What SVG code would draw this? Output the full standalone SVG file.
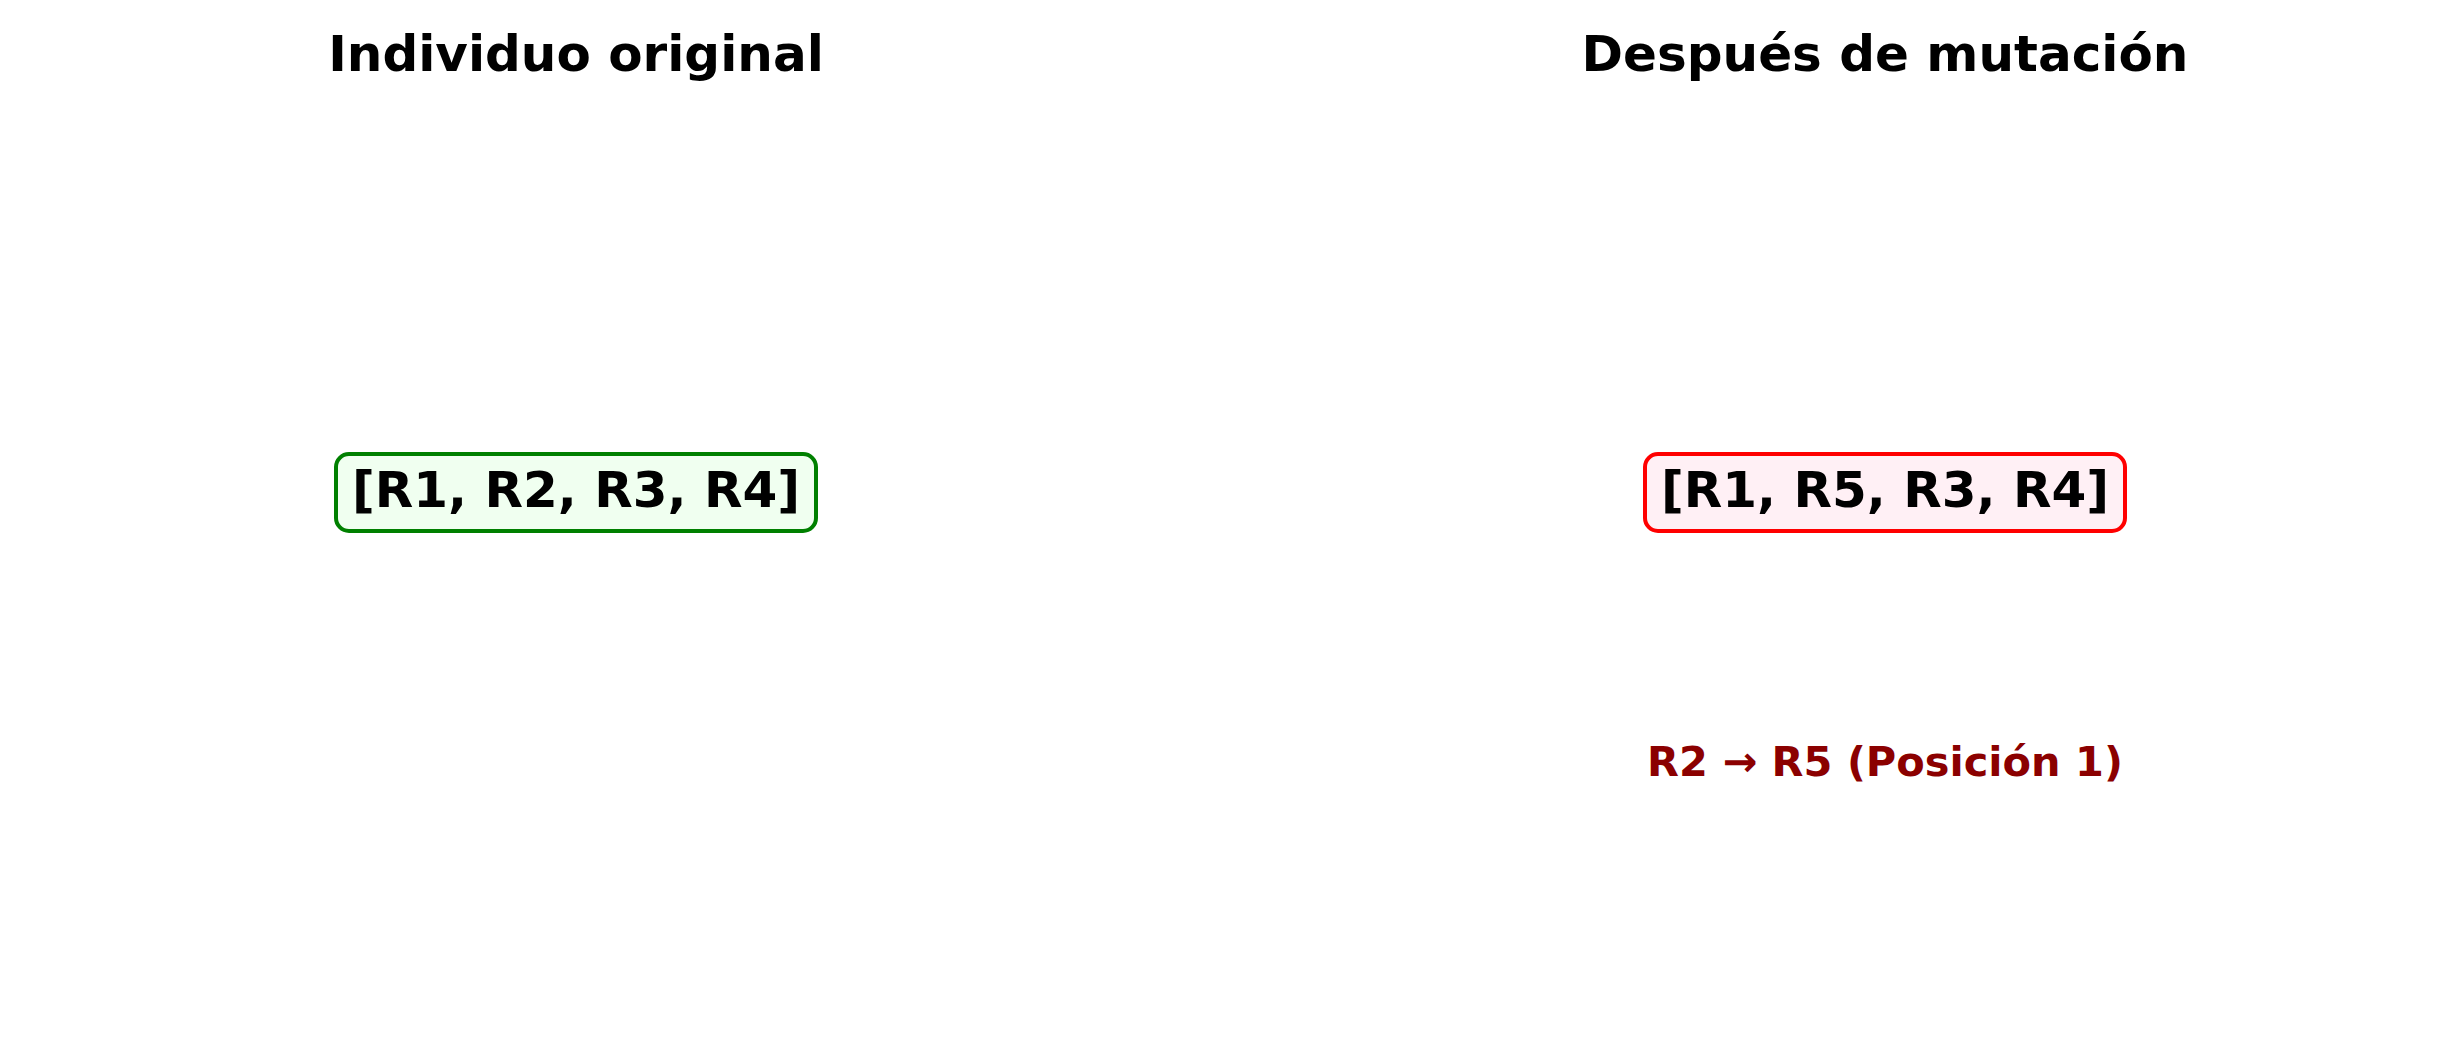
<svg xmlns="http://www.w3.org/2000/svg" width="2460" height="1062" viewBox="0 0 2460 1062">
<style>
.t{font-family:"DejaVu Sans","Liberation Sans",sans-serif;font-weight:bold;text-anchor:middle}
.title{font-size:50px;fill:#000}
.lbl{font-size:50px;fill:#000}
.note{font-size:41.5px;fill:#8B0000}
</style>
<rect width="2460" height="1062" fill="#fff"/>
<g id="title-left"><text class="t title" x="576" y="71">Individuo original</text></g>
<g id="title-right"><text class="t title" x="1885" y="71">Después de mutación</text></g>
<g id="node-original">
<rect x="336" y="454" width="480" height="77" rx="13" fill="#F0FFF0" stroke="#008000" stroke-width="4"/>
<text class="t lbl" x="576" y="507">[R1, R2, R3, R4]</text>
</g>
<g id="node-mutated">
<rect x="1645" y="454" width="480" height="77" rx="13" fill="#FFF0F5" stroke="#FF0000" stroke-width="4"/>
<text class="t lbl" x="1885" y="507">[R1, R5, R3, R4]</text>
</g>
<g id="note"><text class="t note" x="1885" y="776">R2 → R5 (Posición 1)</text></g>
<g id="connectors"></g>
</svg>
